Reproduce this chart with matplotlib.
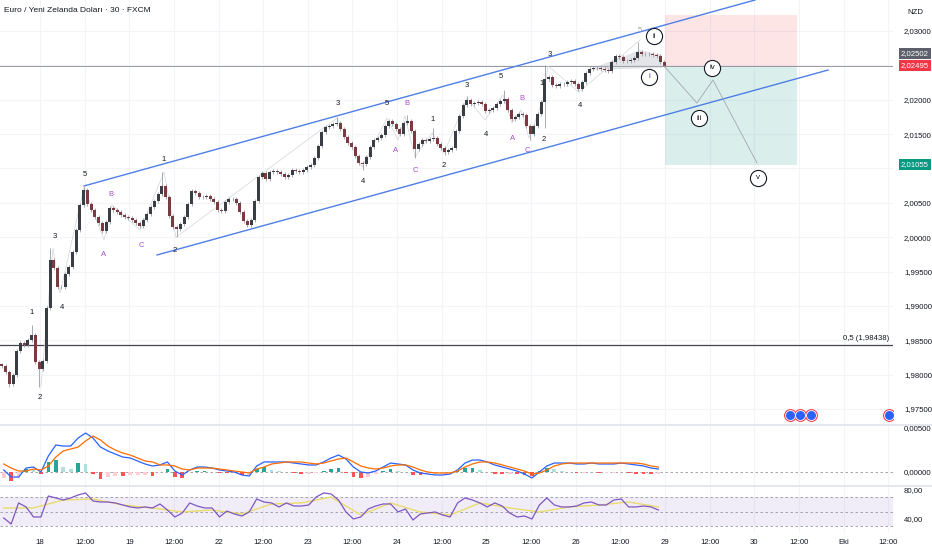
import numpy as np
import matplotlib
matplotlib.use("Agg")
import matplotlib.pyplot as plt
import matplotlib.font_manager as fm
from matplotlib.patches import Rectangle, Polygon
from matplotlib.lines import Line2D
import matplotlib.transforms as mtransforms

# ─────────────────────────────────────────────
# fonts
# ─────────────────────────────────────────────
_names = {f.name for f in fm.fontManager.ttflist}
FONT = [n for n in ["Liberation Sans Narrow", "Liberation Sans", "DejaVu Sans"] if n in _names]
plt.rcParams["font.family"] = FONT

# ─────────────────────────────────────────────
# data  (1 unit on x = one 30 min bar, candles are 1 hour)
# ─────────────────────────────────────────────
closes = [
    1.98126, 1.98038, 1.97864, 1.97995, 1.98344, 1.98460, 1.98431, 1.98504, 1.98577, 1.98184,
    1.98082, 1.98198, 1.98970, 1.99668, 1.99552, 1.99275, 1.99275, 1.99464, 1.99566, 1.99784,
    2.00104, 2.00468, 2.00686, 2.00483, 2.00395, 2.00294, 2.00206, 2.00090, 2.00221, 2.00425,
    2.00395, 2.00366, 2.00323, 2.00294, 2.00279, 2.00250, 2.00206, 2.00163, 2.00250, 2.00337,
    2.00439, 2.00526, 2.00628, 2.00745, 2.00585, 2.00308, 2.00148, 2.00119, 2.00192, 2.00294,
    2.00483, 2.00672, 2.00643, 2.00585, 2.00585, 2.00599, 2.00556, 2.00512, 2.00395, 2.00381,
    2.00512, 2.00556, 2.00556, 2.00497, 2.00366, 2.00235, 2.00177, 2.00250, 2.00526, 2.00876,
    2.00934, 2.00847, 2.00948, 2.00963, 2.00948, 2.00919, 2.00876, 2.00905, 2.00977, 2.00963,
    2.00948, 2.00977, 2.01021, 2.01050, 2.01152, 2.01327, 2.01530, 2.01603, 2.01618, 2.01647,
    2.01661, 2.01574, 2.01458, 2.01370, 2.01312, 2.01181, 2.01079, 2.01065, 2.01167, 2.01312,
    2.01414, 2.01443, 2.01487, 2.01618, 2.01690, 2.01647, 2.01574, 2.01501, 2.01661, 2.01690,
    2.01545, 2.01283, 2.01356, 2.01414, 2.01399, 2.01429, 2.01443, 2.01356, 2.01298, 2.01239,
    2.01268, 2.01298, 2.01545, 2.01763, 2.01923, 2.01996, 2.01938, 2.01952, 2.01967, 2.01938,
    2.01836, 2.01850, 2.01880, 2.01938, 2.01981, 2.02011, 2.01850, 2.01720, 2.01749, 2.01792,
    2.01778, 2.01618, 2.01501, 2.01618, 2.01792, 2.01967, 2.02302, 2.02331, 2.02214, 2.02200,
    2.02229, 2.02229, 2.02258, 2.02272, 2.02229, 2.02156, 2.02258, 2.02389, 2.02447, 2.02462,
    2.02462, 2.02447, 2.02432, 2.02418, 2.02549, 2.02636, 2.02622, 2.02563, 2.02563, 2.02578,
    2.02607, 2.02694, 2.02665, 2.02665, 2.02665, 2.02651, 2.02636, 2.02549, 2.02495,
]
first_open = 1.98150
# notable wick extremes: candle index -> price
spike_high = {8: 1.98722, 13: 1.99843, 22: 2.00730, 43: 2.00948, 90: 2.01749, 109: 2.01778,
              116: 2.01589, 125: 2.02054, 135: 2.02142, 146: 2.02505, 171: 2.02840}
spike_low = {2: 1.97820, 10: 1.97820, 47: 1.99999, 97: 2.00978, 111: 2.01152, 119: 2.01196,
             142: 2.01414, 146: 2.01589, 178: 2.02480}
WICK = 0.00025

# MACD (12,26,9) and RSI sampled every 2 hours
macd_line = [
    0.00023, -0.00057, -0.00057, 0.00045, 0.00057, 0.0, 0.00182, 0.00307, 0.00295, 0.00295,
    0.00386, 0.00443, 0.00386, 0.00284, 0.00239, 0.00204, 0.00170, 0.00159, 0.00125, 0.00091,
    0.00068, 0.00080, 0.00114, 0.00011, -0.00034, 0.00023, 0.00057, 0.00057, 0.00045, 0.00023,
    0.00011, 0.0, -0.00034, -0.00045, 0.00068, 0.00114, 0.00114, 0.00114, 0.00114, 0.00102,
    0.00091, 0.00080, 0.00080, 0.00114, 0.00159, 0.00193, 0.00148, 0.00057, 0.0, -0.00011,
    0.00011, 0.00057, 0.00102, 0.00091, 0.00080, 0.00023, -0.00011, -0.00023, -0.00034, -0.00034,
    -0.00023, 0.00023, 0.00102, 0.00136, 0.00136, 0.00114, 0.00080, 0.00057, 0.00034, 0.00011,
    -0.00023, -0.00068, 0.0, 0.00068, 0.00102, 0.00102, 0.00102, 0.00091, 0.00091, 0.00102,
    0.00091, 0.00091, 0.00091, 0.00102, 0.00091, 0.00080, 0.00068, 0.00045, 0.00034,
]
macd_signal = [
    0.00091, 0.00045, 0.00011, 0.00011, 0.00034, 0.00023, 0.00068, 0.00170, 0.00239, 0.00261,
    0.00284, 0.00352, 0.00409, 0.00364, 0.00295, 0.00250, 0.00216, 0.00193, 0.00159, 0.00125,
    0.00114, 0.00080, 0.00080, 0.00068, 0.00034, 0.00023, 0.00045, 0.00045, 0.00045, 0.00034,
    0.00023, 0.00011, 0.0, -0.00011, 0.00034, 0.00057, 0.00091, 0.00102, 0.00114, 0.00114,
    0.00114, 0.00102, 0.00091, 0.00102, 0.00125, 0.00148, 0.00159, 0.00114, 0.00068, 0.00045,
    0.00034, 0.00045, 0.00068, 0.00080, 0.00080, 0.00057, 0.00023, 0.0, -0.00011, -0.00011,
    -0.00011, 0.00011, 0.00057, 0.00091, 0.00114, 0.00114, 0.00102, 0.00080, 0.00057, 0.00034,
    0.00011, -0.00023, -0.00011, 0.00023, 0.00068, 0.00091, 0.00102, 0.00102, 0.00102, 0.00102,
    0.00102, 0.00102, 0.00102, 0.00102, 0.00102, 0.00102, 0.00091, 0.00068, 0.00057,
]
rsi = [
    41.4, 33.1, 62.1, 56.6, 42.8, 42.8, 71.7, 69.0, 66.2, 69.0,
    73.1, 75.9, 64.8, 63.4, 63.4, 62.1, 59.3, 56.6, 55.2, 56.6,
    55.2, 60.7, 52.4, 42.8, 48.3, 62.1, 57.9, 55.2, 55.2, 42.8,
    51.0, 46.9, 44.1, 49.7, 67.6, 63.4, 62.1, 56.6, 62.1, 57.9,
    57.9, 59.3, 70.3, 75.9, 74.5, 66.2, 49.7, 40.0, 42.8, 53.8,
    57.9, 60.7, 60.7, 49.7, 53.8, 38.6, 46.9, 48.3, 49.7, 45.5,
    42.8, 62.1, 69.0, 66.2, 62.1, 56.6, 62.1, 57.9, 48.3, 42.8,
    44.1, 40.0, 59.3, 69.0, 59.3, 56.6, 56.6, 57.9, 62.1, 63.4,
    59.3, 59.3, 66.2, 67.6, 56.6, 56.6, 57.9, 56.6, 52.4,
]
# RSI moving average, every 8 hours
rsi_ma = [55.2, 55.2, 66.2, 67.6, 59.3, 55.2, 49.7, 52.4, 46.9, 60.7, 62.1, 70.3,
          45.5, 62.1, 49.7, 45.5, 62.1, 55.2, 49.7, 56.6, 59.3, 63.4, 56.6]

# Elliott wave labels: (text, bar, price)
wave_labels = [
    ("1", 17.2, 1.98897), ("2", 21.5, 1.97660), ("3", 29.6, 2.00017), ("4", 33.3, 1.98970),
    ("5", 45.7, 2.00905), ("A", 55.9, 1.99755), ("B", 59.7, 2.00628), ("C", 75.8, 1.99886),
    ("1", 88.2, 2.01123), ("2", 94.1, 1.99813), ("3", 181.7, 2.01938), ("4", 195.2, 2.00817),
    ("5", 208.1, 2.01938), ("A", 212.9, 2.01254), ("B", 218.8, 2.01952), ("C", 223.1, 2.00977),
    ("1", 232.8, 2.01705), ("2", 238.7, 2.01050), ("3", 251.1, 2.02200), ("4", 261.3, 2.01487),
    ("5", 269.4, 2.02331), ("A", 275.3, 2.01443), ("B", 280.6, 2.02025), ("C", 283.3, 2.01254),
    ("1", 291.4, 2.02243), ("2", 292.5, 2.01414), ("3", 295.7, 2.02665), ("4", 311.8, 2.01909),
    ("5", 344.1, 2.03014),
]
wave_pivots_x = [22.0, 28.5, 32.3, 45.2, 55.9, 60.2, 75.3, 88.2, 94.6, 181.2, 194.6, 208.1,
                 214.0, 217.7, 223.1, 232.3, 238.7, 251.1, 260.8, 270.4, 275.3, 280.1, 284.4,
                 291.9, 294.6, 311.3, 344.1]
wave_pivots_y = [1.97820, 1.99843, 1.99188, 2.00730, 1.99959, 2.00468, 2.00105, 2.00948,
                 1.99999, 2.01734, 2.01021, 2.01734, 2.01414, 2.01763, 2.01167, 2.01516,
                 2.01225, 2.02025, 2.01705, 2.02069, 2.01661, 2.01851, 2.01443, 2.01996,
                 2.02491, 2.02112, 2.02869]
circled = [("ii", 351.6, 2.02927), ("i", 348.9, 2.02331), ("iv", 382.8, 2.02462),
           ("iii", 375.8, 2.01734), ("v", 407.5, 2.00861)]
proj_x = [357.0, 374.7, 383.3, 407.0]
proj_y = [2.02491, 2.01952, 2.02287, 2.01079]

chan_up_x, chan_up_y = [45.16, 405.9], [2.00745, 2.03451]
chan_lo_x, chan_lo_y = [84.4, 445.2], [1.99741, 2.02432]

entry, stop, target = 2.02495, 2.03233, 2.01055
box_x0, box_x1 = 357.5, 428.5
last_price = 2.02502
fib_half = 1.98438
event_x = [424.7, 430.1, 436.0, 478.0]
event_y = 1.97413

price_ticks = [2.03, 2.02, 2.015, 2.005, 2.0, 1.995, 1.99, 1.985, 1.98, 1.975]
x_tick_pos = [21.5 + 24 * k for k in range(20)]
x_tick_lab = ["18", "12:00", "19", "12:00", "22", "12:00", "23", "12:00", "24", "12:00",
              "25", "12:00", "26", "12:00", "29", "12:00", "30", "12:00", "Eki", "12:00"]

# ─────────────────────────────────────────────
# layout
# ─────────────────────────────────────────────
W, H = 932, 550
XMAX = 893 / 1.86
TXT = "#131722"
GRID = "#f3f4f8"
FS = 5.6

fig = plt.figure(figsize=(W / 100, H / 100), dpi=100)
fig.patch.set_facecolor("white")
pw = 893 / W
ax = fig.add_axes([0, 1 - 425 / H, pw, 425 / H])
ax_m = fig.add_axes([0, 1 - 486 / H, pw, 61 / H])
ax_r = fig.add_axes([0, 1 - 533 / H, pw, 46 / H])

for a in (ax, ax_m, ax_r):
    a.set_xlim(0, XMAX)
    for s in a.spines.values():
        s.set_visible(False)
    a.yaxis.tick_right()
    a.tick_params(axis="y", length=0, pad=8, labelsize=FS, labelcolor=TXT)
    a.tick_params(axis="x", length=0)
    a.set_xticks([])
    for xt in x_tick_pos:
        a.axvline(xt, color=GRID, lw=0.8, zorder=0)

# ── main price panel ─────────────────────────
ax.set_ylim(1.97267, 2.03451)
ax.set_yticks(price_ticks)
ax.set_yticklabels([f"{v:.5f}".replace(".", ",") for v in price_ticks])
for lv in np.arange(1.975, 2.0301, 0.005):
    ax.axhline(lv, color=GRID, lw=0.8, zorder=0)

c = np.array(closes)
o = np.concatenate([[first_open], c[:-1]])
xs = np.arange(len(c)) * 2 + 1
hi = np.maximum(o, c) + WICK
lo = np.minimum(o, c) - WICK
for k, v in spike_high.items():
    hi[k] = max(hi[k], v)
for k, v in spike_low.items():
    lo[k] = min(lo[k], v)
up = c >= o
ax.vlines(xs, lo, hi, color="#9a9ca5", lw=0.6, zorder=3)
body_b = np.minimum(o, c)
body_h = np.maximum(np.abs(c - o), 0.00005)
ax.bar(xs[up], body_h[up], bottom=body_b[up], width=1.6, color="#3b3d45", lw=0, zorder=4)
ax.bar(xs[~up], body_h[~up], bottom=body_b[~up], width=1.6, color="#7a3a40", lw=0, zorder=4)

# horizontal lines
ax.axhline(entry, color="#9598a1", lw=0.7, zorder=2)
ax.axhline(fib_half, color="#434651", lw=0.9, zorder=2)
ax.text(XMAX - 2, fib_half + 0.0004, "0,5 (1,98438)", ha="right", va="bottom",
        fontsize=FS, color=TXT)

# position box
ax.add_patch(Rectangle((box_x0, entry), box_x1 - box_x0, stop - entry,
                       facecolor="#f23645", alpha=0.13, lw=0, zorder=1))
ax.add_patch(Rectangle((box_x0, target), box_x1 - box_x0, entry - target,
                       facecolor="#089981", alpha=0.15, lw=0, zorder=1))

# channel
ax.plot(chan_up_x, chan_up_y, color="#4f7fe6", lw=1.0, zorder=5)
ax.plot(chan_lo_x, chan_lo_y, color="#4f7fe6", lw=1.0, zorder=5)

# wave drawing
ax.plot(wave_pivots_x, wave_pivots_y, color="#d3d5da", lw=0.5, zorder=2)
ax.add_patch(Polygon([(316.1, 2.02433), (344.1, 2.02724), (355.9, 2.02651), (355.9, 2.02462)],
                     closed=True, facecolor="#b2b5be", alpha=0.35, lw=0, zorder=2))
ax.plot(proj_x, proj_y, color="#a3a6af", lw=0.6, zorder=5)
for t, x, y in wave_labels:
    col = "#a64dc6" if t in "ABC" else TXT
    if (t, x) == ("5", 344.1):
        col = "#a0a3ab"
    ax.text(x, y, t, ha="center", va="center", fontsize=5.5, color=col, zorder=6)
for t, x, y in circled:
    ax.scatter([x], [y], s=135, facecolor="white", edgecolor=TXT, lw=0.8, zorder=7)
    ax.text(x, y, t, ha="center", va="center", fontsize=5.8,
            color="#5e35b1" if t == "i" else TXT, zorder=8)

# economic event markers
ax.scatter(event_x, [event_y] * len(event_x), s=85, color="#f23645", zorder=7, lw=0)
ax.scatter(event_x, [event_y] * len(event_x), s=60, color="white", zorder=8, lw=0)
ax.scatter(event_x, [event_y] * len(event_x), s=42, color="#2962ff", zorder=9, lw=0)

# right scale tags
tr = mtransforms.blended_transform_factory(ax.transAxes, ax.transData)
tag_x = 901 / 893
for val, ypos, bg in [(last_price, 2.02668, "#5d606b"), (entry, entry, "#f23645"),
                      (target, target, "#089981")]:
    ax.text(tag_x, ypos, f"{val:.5f}".replace(".", ","), transform=tr, ha="left",
            va="center", fontsize=FS, color="white", zorder=10, clip_on=False,
            bbox=dict(boxstyle="square,pad=0.25", fc=bg, ec="none"))
ax.text(907 / 893, 1 - 12 / 425, "NZD", transform=ax.transAxes, ha="left", va="center",
        fontsize=FS, color=TXT)

# ── MACD panel ───────────────────────────────
ax_m.set_ylim(-0.00159, 0.00534)
ax_m.set_yticks([0.005, 0.0])
ax_m.set_yticklabels(["0,00500", "0,00000"])
mx = np.arange(len(macd_line)) * 4 + 2
ml = np.array(macd_line)
sg = np.array(macd_signal)
hist = ml - sg
cols = []
for k, h in enumerate(hist):
    prev = hist[k - 1] if k else h
    if h >= 0:
        cols.append("#26a69a" if h >= prev else "#b2dfdb")
    else:
        cols.append("#ff5252" if h < prev else "#ffcdd2")
ax_m.axhline(0, color="#9598a1", lw=0.6, ls=(0, (3, 3)), zorder=1)
ax_m.bar(mx, hist, width=2.0, color=cols, lw=0, zorder=2)
ax_m.plot(mx, ml, color="#2962ff", lw=0.9, zorder=3)
ax_m.plot(mx, sg, color="#ff6d00", lw=0.9, zorder=3)

# ── RSI panel ────────────────────────────────
ax_r.set_ylim(20.7, 84.1)
ax_r.set_yticks([80, 40])
ax_r.set_yticklabels(["80,00", "40,00"])
ax_r.axhspan(30, 70, color="#7e57c2", alpha=0.1, lw=0, zorder=0)
for lv in (70, 50, 30):
    ax_r.axhline(lv, color="#9598a1", lw=0.6, ls=(0, (3, 3)), zorder=1)
rx = np.arange(len(rsi)) * 4 + 2
ax_r.plot(rx, rsi, color="#7e57c2", lw=0.9, zorder=3)
ax_r.plot(np.arange(len(rsi_ma)) * 16 + 2, rsi_ma, color="#eadb6d", lw=1.0, zorder=2)
ax_r.set_xticks(x_tick_pos)
ax_r.set_xticklabels(x_tick_lab)
ax_r.tick_params(axis="x", length=0, pad=4, labelsize=FS, labelcolor=TXT)

# panel separators
for yp in (425, 486):
    fig.add_artist(Line2D([0, 1], [1 - yp / H, 1 - yp / H], color="#e0e3eb", lw=1.2))

fig.text(4 / W, 1 - 11 / H, "Euro / Yeni Zelanda Doları · 30 · FXCM", ha="left",
         va="center", fontsize=6, color=TXT)

fig.savefig("out.png", dpi=100)
